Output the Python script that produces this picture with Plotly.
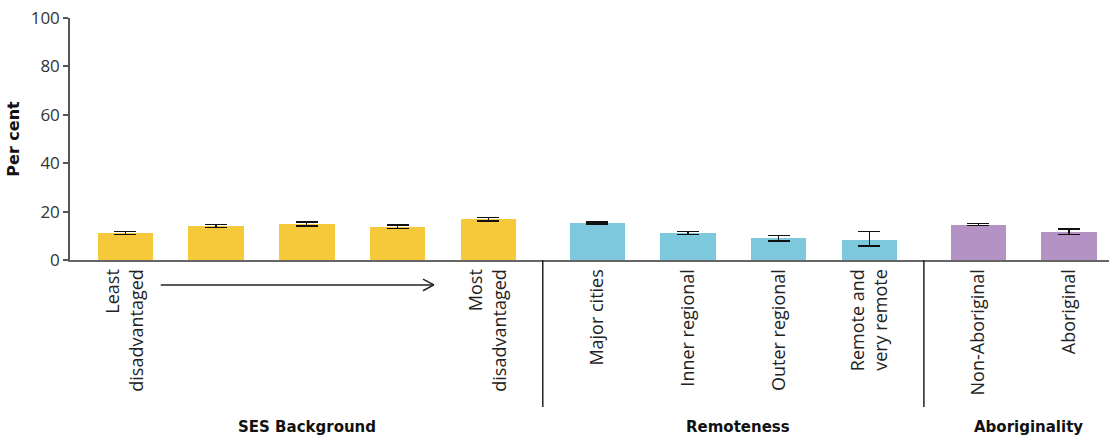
import plotly.graph_objects as go

# Share of students (per cent) by group, with error margins
ses_labels = ["Least<br>disadvantaged", "", "", "", "Most<br>disadvantaged"]
ses_values = [11.2, 14.1, 14.9, 13.7, 16.9]
ses_err = [0.7, 0.7, 0.8, 0.8, 0.8]

remote_labels = ["Major cities", "Inner regional", "Outer regional", "Remote and<br>very remote"]
remote_values = [15.3, 11.2, 9.1, 8.4]
remote_err_plus = [0.4, 0.7, 0.9, 3.4]
remote_err_minus = [0.4, 0.7, 1.3, 2.6]

abor_labels = ["Non-Aboriginal", "Aboriginal"]
abor_values = [14.6, 11.6]
abor_err = [0.35, 1.2]

group_titles = ["SES Background", "Remoteness", "Aboriginality"]

# x positions: one unit per category, wider gap between groups
GAP = 1.2
ses_x = [float(i) for i in range(len(ses_values))]
remote_x = [ses_x[-1] + GAP + i for i in range(len(remote_values))]
abor_x = [remote_x[-1] + GAP + i for i in range(len(abor_values))]

YELLOW = "#F5C93A"
BLUE = "#7DC8DC"
PURPLE = "#B592C4"
FONT = "Open Sans"
BOLD_FONT = "DejaVu Sans"
BAR_W = 0.61

fig = go.Figure()


def add_bars(xs, ys, color, plus, minus):
    fig.add_trace(go.Bar(
        x=xs, y=ys, width=BAR_W, marker=dict(color=color, line=dict(width=0)),
        error_y=dict(type="data", symmetric=False, array=plus, arrayminus=minus,
                     color="#111111", thickness=1.3, width=11),
        showlegend=False,
    ))


add_bars(ses_x, ses_values, YELLOW, ses_err, ses_err)
add_bars(remote_x, remote_values, BLUE, remote_err_plus, remote_err_minus)
add_bars(abor_x, abor_values, PURPLE, abor_err, abor_err)

# group separators and titles (below the axis, in paper units)
sep1 = (ses_x[-1] + remote_x[0]) / 2
sep2 = (remote_x[-1] + abor_x[0]) / 2
shapes = []
for sx in (sep1, sep2):
    shapes.append(dict(type="line", xref="x", yref="paper", x0=sx, x1=sx,
                       y0=0, y1=-0.607, line=dict(color="#222222", width=1.5)))

# arrow from least to most disadvantaged
ay = -0.103
ax0, ax1 = 0.39, 3.40
shapes.append(dict(type="line", xref="x", yref="paper", x0=ax0, x1=ax1, y0=ay, y1=ay,
                   line=dict(color="#222222", width=1.5)))
for dy in (0.024, -0.024):
    shapes.append(dict(type="line", xref="x", yref="paper", x0=ax1 - 0.12, x1=ax1,
                       y0=ay + dy, y1=ay, line=dict(color="#222222", width=1.5)))

annotations = []
centers = [sum(ses_x) / len(ses_x), sum(remote_x) / len(remote_x) + 0.05, sum(abor_x) / len(abor_x) + 0.05]
for title, cx in zip(group_titles, centers):
    annotations.append(dict(text="<b>" + title + "</b>", x=cx, xref="x", y=-0.69, yref="paper",
                            showarrow=False, font=dict(family=BOLD_FONT, size=15, color="#111111"),
                            xanchor="center", yanchor="middle"))

fig.update_layout(
    width=1109, height=437,
    margin=dict(l=70, r=0, t=18, b=177),
    paper_bgcolor="white", plot_bgcolor="white",
    font=dict(family=FONT, color="#333333"),
    bargap=0,
    shapes=shapes,
    annotations=annotations,
    xaxis=dict(
        range=[-0.61, 10.84],
        tickvals=ses_x + remote_x + abor_x,
        ticktext=ses_labels + remote_labels + abor_labels,
        tickangle=-90,
        tickfont=dict(family=FONT, size=18, color="#222222"),
        showline=True, linecolor="#666666", linewidth=2,
        ticks="", showgrid=False, zeroline=False,
    ),
    yaxis=dict(
        range=[0, 100], dtick=20,
        tickfont=dict(family=FONT, size=17, color="#333333"),
        showline=True, linecolor="#555555", linewidth=1.5,
        ticks="outside", ticklen=5, tickcolor="#555555", tickwidth=1.5,
        showgrid=False, zeroline=False,
        title=dict(text="<b>Per cent</b>", font=dict(family=BOLD_FONT, size=16, color="#111111"), standoff=7),
    ),
)

fig.write_html("out.html")
